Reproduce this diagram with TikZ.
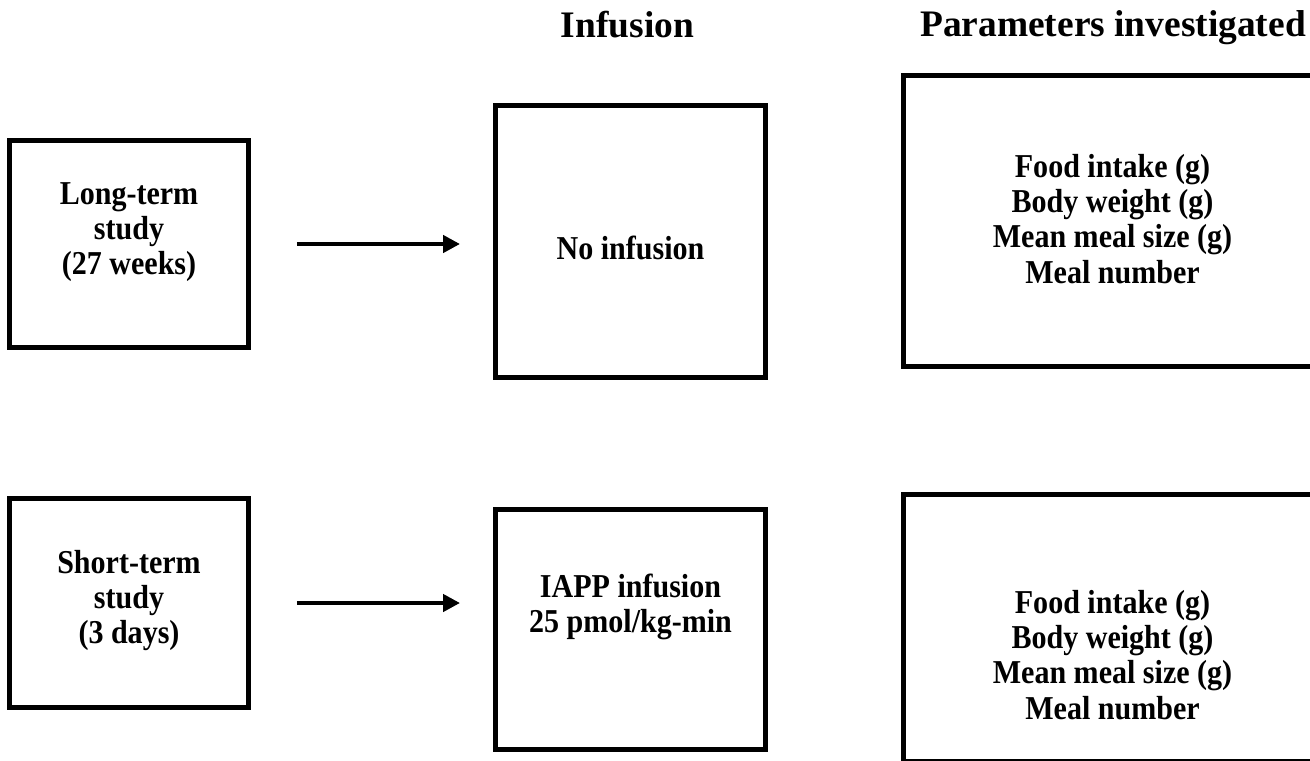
\documentclass[tikz,border=0pt]{standalone}
\usepackage{fontspec}
\setmainfont{Liberation Serif}
\newfontfamily\boxfont{Liberation Serif}[FakeStretch=0.9]
\usetikzlibrary{arrows.meta}

\tikzset{
	studybox/.style={draw, line width=2.85pt, inner sep=0pt},
	boxtext/.style={align=center, inner sep=0pt, font=\boxfont\bfseries\fontsize{19}{20}\selectfont},
	headtext/.style={font=\bfseries\fontsize{21.3}{24}\selectfont},
	flowarrow/.style={line width=2.5pt, -{Triangle[length=0.34cm, width=0.34cm]}, shorten <=0.91cm, shorten >=0.65cm},
}

\begin{document}
\begin{tikzpicture}[x=0.02cm, y=-0.02cm]
		%%%%% START %%%%%
		
		\useasboundingbox (0, 0) rectangle (1310, 760);
		
		\node[headtext] (infhead) at (627.5, 25) {Infusion};
		\node[headtext] (parhead) at (1113, 28) {Parameters investigated};
		
		% top row
		\node[studybox, minimum width=4.8cm, minimum height=4.16cm] (longterm) at (129, 244) {};
		\node[boxtext] (longtermtxt) at ([yshift=0.24cm]longterm.center) {Long-term\\study\\(27 weeks)};
		\node[studybox, minimum width=5.42cm, minimum height=5.46cm] (noinf) at (630.5, 241.5) {};
		\node[boxtext] (noinftxt) at ([yshift=-0.12cm]noinf.center) {No infusion};
		\node[studybox, minimum width=8.38cm, minimum height=5.84cm] (partop) at (1112.5, 221) {};
		\node[boxtext] (partoptxt) at ([yshift=0.04cm]partop.center) {Food intake (g)\\Body weight (g)\\Mean meal size (g)\\Meal number};
		
		% bottom row
		\node[studybox, minimum width=4.8cm, minimum height=4.2cm] (shortterm) at (129, 603) {};
		\node[boxtext] (shorttermtxt) at ([yshift=0.05cm]shortterm.center) {Short-term\\study\\(3 days)};
		\node[studybox, minimum width=5.42cm, minimum height=4.82cm] (iapp) at (630.5, 629.5) {};
		\node[boxtext] (iapptxt) at ([yshift=0.46cm]iapp.center) {IAPP infusion\\25 pmol/kg-min};
		\node[studybox, minimum width=8.38cm, minimum height=5.36cm] (parbot) at (1112.5, 628) {};
		\node[boxtext] (parbottxt) at ([yshift=-0.54cm]parbot.center) {Food intake (g)\\Body weight (g)\\Mean meal size (g)\\Meal number};
		
		\draw[flowarrow] (longterm.east) -- (longterm.east -| noinf.west);
		\draw[flowarrow] (shortterm.east) -- (shortterm.east -| iapp.west);
		
		%%%%% END %%%%%
\end{tikzpicture}
\end{document}
